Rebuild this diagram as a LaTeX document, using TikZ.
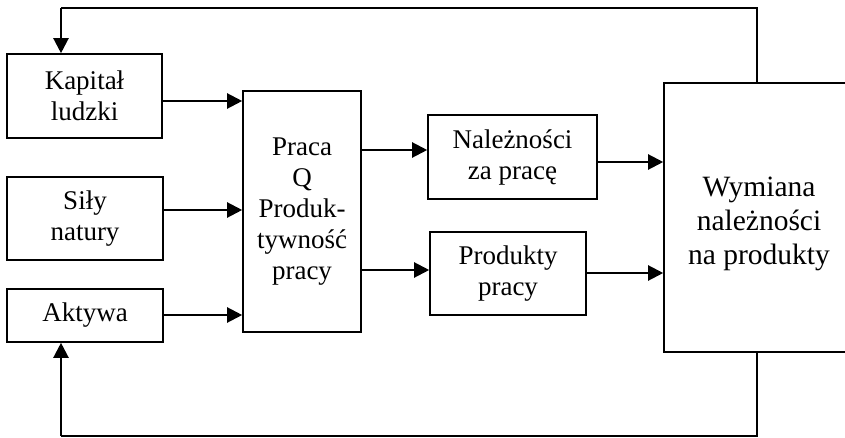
\documentclass[tikz,border=0pt]{standalone}
\usepackage{fontspec}
\setmainfont{Liberation Serif}
\usetikzlibrary{arrows.meta,calc}
\tikzset{
  box/.style={draw, line width=1.6pt, inner sep=0pt, align=center,
    font=\fontsize{27}{31}\selectfont},
  arr/.style={line width=2.2pt, -{Triangle[length=15pt,width=15pt]}},
  fb/.style={line width=1.8pt},
}
\begin{document}
\begin{tikzpicture}[x=1pt,y=-1pt]
\useasboundingbox (0,0) rectangle (845,438);
\clip (0,0) rectangle (845,438);
% boxes
\node[box, minimum width=155pt, minimum height=84pt] (kap) at (84.5,96) {Kapitał\\ludzki};
\node[box, minimum width=156pt, minimum height=83pt] (sil) at (85,218.5) {Siły\\natury};
\node[box, minimum width=156pt, minimum height=53pt] (akt) at (85,315.5) {Aktywa};
\node[box, minimum width=118pt, minimum height=241pt] (pra) at (302,211.5) {Praca\\Q\\Produk-\\tywność\\pracy};
\node[box, minimum width=169pt, minimum height=84pt] (nal) at (512.5,157) {Należności\\za pracę};
\node[box, minimum width=156pt, minimum height=83pt] (pro) at (508,273.5) {Produkty\\pracy};
\node[draw, line width=1.6pt, inner sep=0pt, minimum width=200pt, minimum height=269pt] (wym) at (764,217.5) {};
\node[align=center, font=\fontsize{29.5}{34}\selectfont] (wymt) at (759,224) {Wymiana\\należności\\na produkty};
% helper coordinates
\coordinate (y1) at (0,101);
\coordinate (y2) at (0,210);
\coordinate (y3) at (0,315);
\coordinate (y4) at (0,150);
\coordinate (y5) at (0,270);
\coordinate (y6) at (0,162);
\coordinate (y7) at (0,273);
\coordinate (tr) at (757,8);
\coordinate (tl) at (61,8);
\coordinate (br) at (757,436);
\coordinate (bl) at (61,436);
% arrows
\draw[arr] (kap.east |- y1) -- (pra.west |- y1);
\draw[arr] (sil.east |- y2) -- (pra.west |- y2);
\draw[arr] (akt.east |- y3) -- (pra.west |- y3);
\draw[arr] (pra.east |- y4) -- (nal.west |- y4);
\draw[arr] (pra.east |- y5) -- (pro.west |- y5);
\draw[arr] (nal.east |- y6) -- (wym.west |- y6);
\draw[arr] (pro.east |- y7) -- (wym.west |- y7);
% feedback loops
\draw[fb] (wym.north -| tr) -- (tr) -- (tl);
\draw[arr] (tl) -- (kap.north -| tl);
\draw[fb] (wym.south -| br) -- (br) -- (bl);
\draw[arr] (bl) -- (akt.south -| bl);
\end{tikzpicture}
\end{document}
